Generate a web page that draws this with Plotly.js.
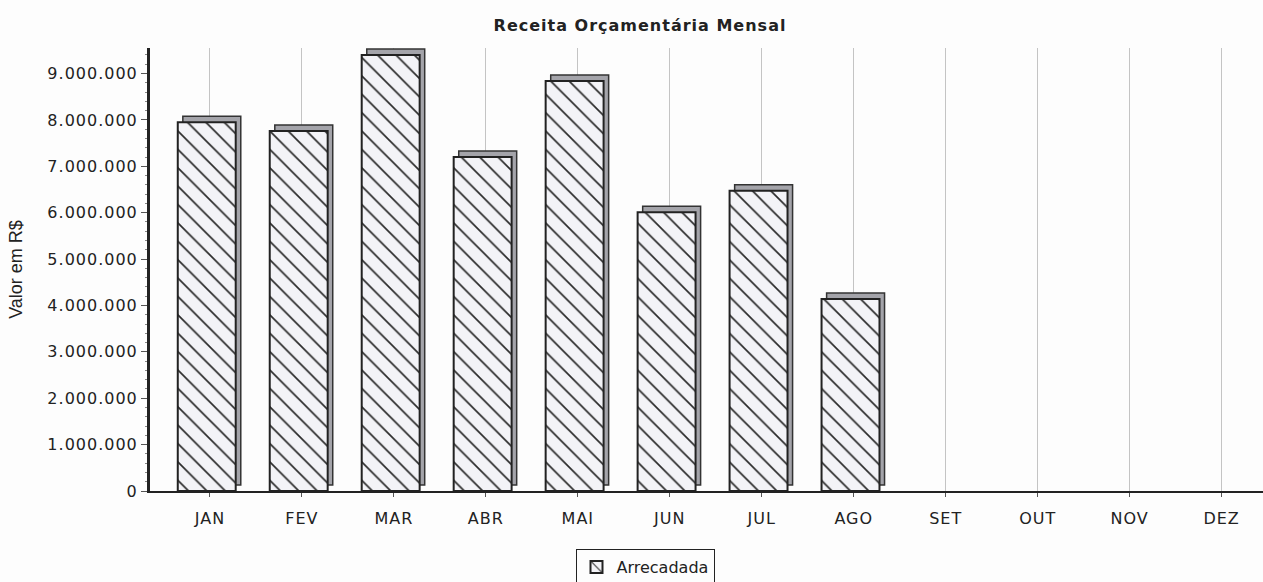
<!DOCTYPE html>
<html>
<head>
<meta charset="utf-8">
<script src="https://cdn.plot.ly/plotly-3.0.1.min.js"></script>
<style>
html,body{margin:0;padding:0;background:#fdfdfd;}
#chart{width:1263px;height:582px;}
#chart .xtick text, #chart .ytick text, #chart .gtitle {letter-spacing:1px;}
</style>
</head>
<body>
<div id="chart"></div>
<script>
var months = ["JAN","FEV","MAR","ABR","MAI","JUN","JUL","AGO","SET","OUT","NOV","DEZ"];
var arrecadada = [7950000, 7760000, 9400000, 7200000, 8840000, 6010000, 6470000, 4140000, null, null, null, null];
var seriesName = "Arrecadada";
var chartTitle = "Receita Orçamentária Mensal";
var yTitle = "Valor em R$";

// 3D depth effect in data units, derived from the axis scale
var depthY = 130000;
var shadowBase = arrecadada.map(function(v){ return v === null ? null : depthY; });

var shadow = {
  type: "bar", x: months, y: arrecadada, base: shadowBase,
  offset: -0.295, width: 0.63,
  marker: {color: "#a4a4aa", line: {color: "#333333", width: 1.5}},
  showlegend: false, hoverinfo: "skip"
};
var front = {
  type: "bar", x: months, y: arrecadada, name: seriesName,
  offset: -0.35, width: 0.63,
  marker: {
    color: "#f3f3f7",
    line: {color: "#222222", width: 2},
    pattern: {shape: "\\", fgcolor: "#2a2a2a", bgcolor: "#f3f3f7", size: 13, solidity: 0.13}
  }
};

var layout = {
  width: 1263, height: 582,
  paper_bgcolor: "#fdfdfd", plot_bgcolor: "#fdfdfd",
  margin: {l: 150, r: 0, t: 48, b: 91},
  separators: ",.",
  barmode: "overlay",
  font: {family: "DejaVu Sans, sans-serif", size: 16, color: "#222"},
  title: {text: "<b>" + chartTitle + "</b>", x: 640/1263, xref: "container", xanchor: "center",
          y: 1 - 25/582, yref: "container", yanchor: "middle",
          font: {family: "DejaVu Sans, sans-serif", size: 16, color: "#222"}},
  xaxis: {
    type: "category", range: [-0.652, 11.45],
    showgrid: true, gridcolor: "#c4c4c4", gridwidth: 1,
    showline: true, linecolor: "#222", linewidth: 2,
    ticks: "outside", ticklen: 4, tickcolor: "#555",
    ticklabelstandoff: 8,
    tickfont: {family: "DejaVu Sans, sans-serif", size: 16, color: "#222"}, fixedrange: true
  },
  yaxis: {
    range: [0, 9550000], tickformat: ",d", dtick: 1000000,
    showgrid: false, zeroline: false,
    showline: true, linecolor: "#222", linewidth: 3,
    ticks: "outside", ticklen: 6, tickcolor: "#555",
    minor: {dtick: 200000, ticklen: 2, tickcolor: "#888", ticks: "outside"},
    tickfont: {family: "DejaVu Sans, sans-serif", size: 16, color: "#222"},
    title: {text: yTitle, font: {family: "Liberation Sans, Arial, sans-serif", size: 18, color: "#222"}, standoff: 30},
    fixedrange: true
  },
  showlegend: true,
  legend: {
    orientation: "h", xref: "container", yref: "container",
    x: 645/1263, xanchor: "center", y: 1 - 549/582, yanchor: "top",
    bordercolor: "#222", borderwidth: 1, bgcolor: "#fdfdfd",
    font: {family: "DejaVu Sans, sans-serif", size: 16, color: "#222"}
  }
};

Plotly.newPlot("chart", [shadow, front], layout, {displayModeBar: false, staticPlot: true});
</script>
</body>
</html>
